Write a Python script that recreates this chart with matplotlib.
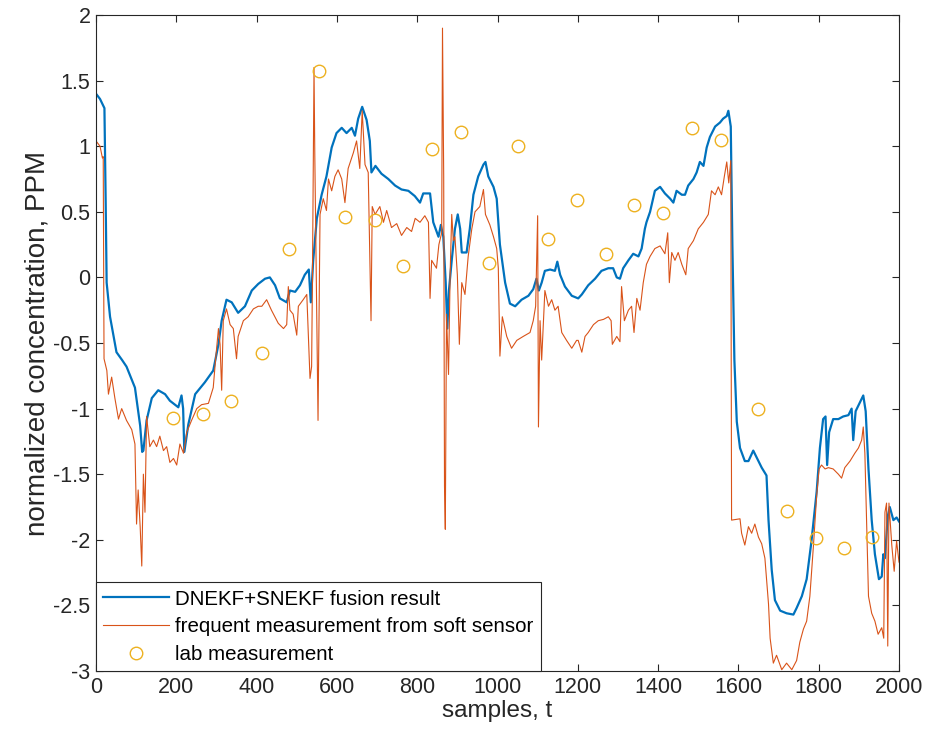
import numpy as np
import matplotlib
matplotlib.use("Agg")
import matplotlib.pyplot as plt
from matplotlib.ticker import FormatStrFormatter

plt.rcParams['font.family'] = ['Liberation Sans', 'DejaVu Sans']

# Fusie resultaat (DNEKF+SNEKF), afgelees van die figuur
fusie_x = [0, 10, 21, 24, 26.5, 35, 51, 65, 76, 97, 110, 115, 118, 126, 139, 155, 172, 184, 205, 213,
           217, 220, 230, 247, 271, 292, 305, 313, 325, 338, 354, 371, 388, 404, 421, 433, 446, 458, 475, 483,
           496, 508, 520, 530, 535, 541, 550, 562, 574, 587, 599, 612, 624, 637, 645, 653, 663, 674, 682, 686,
           696, 711, 728, 745, 761, 778, 794, 807, 815, 832, 840, 853, 859, 865, 871, 875, 879, 886, 894, 901,
           907, 911, 923, 931, 940, 952, 965, 970, 977, 990, 998, 1006, 1019, 1031, 1044, 1060, 1077, 1089, 1097, 1103,
           1110, 1118, 1131, 1143, 1149, 1156, 1168, 1185, 1201, 1210, 1226, 1243, 1259, 1276, 1288, 1297, 1305, 1313, 1326, 1338,
           1351, 1359, 1367, 1371, 1380, 1392, 1405, 1417, 1430, 1438, 1446, 1459, 1467, 1475, 1488, 1496, 1504, 1513, 1521, 1529,
           1542, 1554, 1562, 1571, 1575, 1581, 1585, 1590, 1596, 1604, 1616, 1625, 1637, 1645, 1658, 1670, 1675, 1683, 1691, 1704,
           1720, 1737, 1745, 1758, 1770, 1782, 1795, 1803, 1811, 1817, 1821, 1826, 1836, 1849, 1861, 1874, 1882, 1886, 1892, 1903,
           1911, 1917, 1924, 1932, 1940, 1950, 1957, 1961, 1965, 1972, 1977, 1986, 1994, 2000]
fusie_y = [1.40, 1.36, 1.29, 0.60, -0.04, -0.30, -0.57, -0.63, -0.68, -0.84, -1.13, -1.33, -1.32, -1.09, -0.92, -0.86, -0.89, -0.94, -0.99, -0.90,
           -1.00, -1.33, -1.12, -0.89, -0.80, -0.71, -0.51, -0.33, -0.17, -0.19, -0.27, -0.22, -0.10, -0.05, -0.01, 0.00, -0.06, -0.16, -0.19, -0.10,
           -0.11, -0.06, 0.02, 0.06, -0.19, 0.13, 0.45, 0.63, 0.77, 0.99, 1.10, 1.14, 1.10, 1.14, 1.08, 1.21, 1.30, 1.20, 1.04, 0.80,
           0.85, 0.79, 0.75, 0.70, 0.67, 0.66, 0.62, 0.57, 0.64, 0.64, 0.42, 0.31, 0.40, 0.31, -0.04, -0.39, -0.10, 0.13, 0.37, 0.48,
           0.37, 0.19, 0.19, 0.37, 0.63, 0.77, 0.86, 0.88, 0.77, 0.69, 0.60, 0.25, -0.04, -0.20, -0.22, -0.17, -0.14, -0.09, -0.01, -0.10,
           -0.04, 0.05, 0.06, 0.05, 0.12, 0.02, -0.07, -0.14, -0.16, -0.13, -0.06, -0.01, 0.05, 0.07, 0.07, 0.00, -0.01, 0.07, 0.13, 0.18,
           0.16, 0.22, 0.37, 0.42, 0.50, 0.66, 0.69, 0.64, 0.60, 0.57, 0.66, 0.63, 0.63, 0.70, 0.75, 0.80, 0.88, 0.85, 0.99, 1.07,
           1.15, 1.18, 1.21, 1.23, 1.27, 1.15, 0.25, -0.63, -1.10, -1.30, -1.40, -1.40, -1.32, -1.37, -1.45, -1.51, -1.85, -2.23, -2.46, -2.54,
           -2.56, -2.57, -2.52, -2.43, -2.30, -2.01, -1.63, -1.30, -1.08, -1.06, -1.43, -1.18, -1.08, -1.08, -1.06, -1.05, -1.00, -1.24, -1.02, -0.95,
           -0.90, -1.02, -1.46, -1.85, -2.11, -2.30, -2.28, -2.11, -2.14, -1.82, -1.75, -1.85, -1.83, -1.86]

# Sagte sensor meting
sensor_x = [0, 10, 16, 18, 20, 27, 31, 39, 47, 56, 64, 76, 89, 97, 101, 105, 110, 114, 118, 122,
            126, 134, 143, 151, 159, 168, 176, 184, 193, 201, 209, 218, 226, 238, 251, 263, 280, 292, 298, 305,
            309, 313, 317, 325, 334, 342, 350, 354, 367, 379, 392, 404, 413, 425, 437, 454, 467, 475, 479, 483,
            491, 500, 504, 516, 525, 533, 537, 539, 543, 545, 550, 553, 558, 566, 574, 579, 587, 595, 603, 612,
            620, 628, 641, 649, 657, 663, 670, 678, 685, 688, 695, 707, 716, 724, 736, 749, 761, 774, 786, 795,
            807, 819, 828, 832, 836, 848, 854, 861, 863, 866, 868, 870, 873, 878, 882, 886, 890, 894, 900, 905,
            911, 919, 927, 936, 944, 956, 965, 970, 981, 990, 998, 1002, 1006, 1012, 1023, 1035, 1048, 1064, 1081, 1089,
            1095, 1100, 1102, 1106, 1110, 1118, 1127, 1135, 1143, 1151, 1160, 1172, 1185, 1197, 1201, 1210, 1218, 1226, 1239, 1251,
            1264, 1276, 1283, 1286, 1297, 1305, 1309, 1316, 1326, 1334, 1340, 1347, 1355, 1363, 1371, 1380, 1392, 1405, 1417, 1424,
            1428, 1434, 1442, 1450, 1459, 1469, 1475, 1488, 1500, 1513, 1525, 1533, 1542, 1550, 1558, 1565, 1571, 1576, 1581, 1583,
            1604, 1608, 1616, 1625, 1633, 1641, 1650, 1658, 1666, 1675, 1679, 1687, 1695, 1708, 1720, 1733, 1745, 1753, 1762, 1770,
            1778, 1787, 1795, 1801, 1807, 1816, 1824, 1836, 1849, 1857, 1865, 1878, 1890, 1899, 1907, 1911, 1915, 1924, 1932, 1940,
            1948, 1957, 1962, 1965, 1969, 1972, 1975, 1982, 1988, 1994, 2000]
sensor_y = [1.04, 1.00, 0.91, 0.92, -0.62, -0.71, -0.89, -0.76, -0.92, -1.08, -1.00, -1.09, -1.16, -1.27, -1.88, -1.62, -1.90, -2.20, -1.50, -1.79,
            -1.06, -1.29, -1.24, -1.29, -1.21, -1.32, -1.29, -1.41, -1.38, -1.43, -1.27, -1.34, -1.18, -1.09, -1.00, -0.97, -0.96, -0.84, -0.62, -0.39,
            -0.51, -0.86, -0.33, -0.24, -0.36, -0.39, -0.62, -0.45, -0.33, -0.30, -0.24, -0.22, -0.22, -0.17, -0.25, -0.35, -0.39, -0.36, -0.07, -0.25,
            -0.28, -0.44, -0.22, -0.17, -0.13, -0.77, -0.68, -0.04, 1.60, 0.92, -0.33, -1.09, 0.48, 0.60, 0.51, 0.75, 0.66, 0.77, 0.82, 0.75,
            0.57, 0.83, 0.95, 1.04, 0.83, 1.27, 0.86, 0.80, -0.33, 0.54, 0.48, 0.54, 0.42, 0.51, 0.38, 0.41, 0.32, 0.38, 0.35, 0.45,
            0.42, 0.47, 0.42, -0.16, 0.13, 0.07, 0.25, 0.34, 1.90, 0.77, -1.59, -1.92, -0.28, -0.74, 0.02, 0.48, 0.28, 0.31, 0.02, -0.51,
            -0.04, -0.13, 0.16, 0.37, 0.50, 0.54, 0.67, 0.48, 0.40, 0.31, 0.22, 0.07, -0.60, -0.30, -0.45, -0.54, -0.48, -0.45, -0.42, -0.33,
            -0.22, 0.47, -1.14, -0.33, -0.63, -0.10, -0.22, -0.17, -0.25, -0.22, -0.42, -0.48, -0.54, -0.48, -0.48, -0.57, -0.45, -0.42, -0.36, -0.33,
            -0.32, -0.30, -0.33, -0.51, -0.45, -0.49, -0.07, -0.33, -0.25, -0.22, -0.42, -0.16, -0.25, -0.04, 0.10, 0.16, 0.22, 0.24, 0.18, 0.34,
            -0.04, 0.19, 0.13, 0.19, 0.10, 0.02, 0.22, 0.28, 0.37, 0.42, 0.48, 0.66, 0.63, 0.69, 0.63, 0.77, 0.88, 0.72, 0.89, -1.85,
            -1.84, -1.95, -2.04, -1.90, -1.95, -1.88, -1.98, -2.03, -2.14, -2.49, -2.75, -2.94, -2.88, -2.99, -2.94, -2.99, -2.92, -2.78, -2.68, -2.62,
            -2.43, -2.04, -1.66, -1.46, -1.43, -1.46, -1.45, -1.46, -1.50, -1.53, -1.45, -1.40, -1.34, -1.30, -1.24, -1.14, -1.34, -2.43, -2.56, -2.62,
            -2.72, -2.67, -2.75, -1.79, -1.72, -2.81, -1.72, -2.04, -2.24, -2.01, -2.17]

# Laboratorium metings
lab_x = [191, 267, 335, 414, 481, 556, 619, 695, 764, 836, 909, 980, 1052, 1125, 1197, 1269, 1341, 1413, 1485, 1557,
         1648, 1720, 1793, 1864, 1932]
lab_y = [-1.07, -1.04, -0.94, -0.58, 0.22, 1.57, 0.46, 0.44, 0.09, 0.98, 1.11, 0.11, 1.00, 0.29, 0.59, 0.18, 0.55, 0.49, 1.14, 1.05,
         -1.00, -1.78, -1.99, -2.06, -1.98]

fig = plt.figure(figsize=(9.3, 7.48), dpi=100)
ax = fig.add_axes([96/930, 77/748, 803/930, 656/748])

ax.plot(fusie_x, fusie_y, color='#0072BD', lw=1.6, label='DNEKF+SNEKF fusion result')
ax.plot(sensor_x, sensor_y, color='#D95319', lw=0.8, label='frequent measurement from soft sensor')
ax.plot(lab_x, lab_y, 'o', mfc='none', mec='#EDB120', ms=9, mew=1.0, label='lab measurement')

ax.set_xlim(0, 2000)
ax.set_ylim(-3, 2)
ax.set_xticks(np.arange(0, 2001, 200))
ax.set_yticks(np.arange(-3, 2.01, 0.5))
ax.yaxis.set_major_formatter(FormatStrFormatter('%g'))
ax.tick_params(direction='in', top=True, right=True, length=5, width=0.8,
               labelsize=15.5, colors='#262626', pad=4)
for s in ax.spines.values():
    s.set_color('#262626')
    s.set_linewidth(0.8)

ax.set_xlabel('samples, t', fontsize=17.5, color='#262626', labelpad=2)
ax.set_ylabel('normalized concentration, PPM', fontsize=20, color='#262626', labelpad=2)

leg = ax.legend(loc='lower left', bbox_to_anchor=(0, 0), borderaxespad=0, fontsize=14.8,
                fancybox=False, framealpha=1, edgecolor='#262626', handlelength=3.2,
                handletextpad=0.3, labelspacing=0.42, borderpad=0.35)
leg.get_frame().set_linewidth(0.8)

fig.savefig('out.png', dpi=100)
